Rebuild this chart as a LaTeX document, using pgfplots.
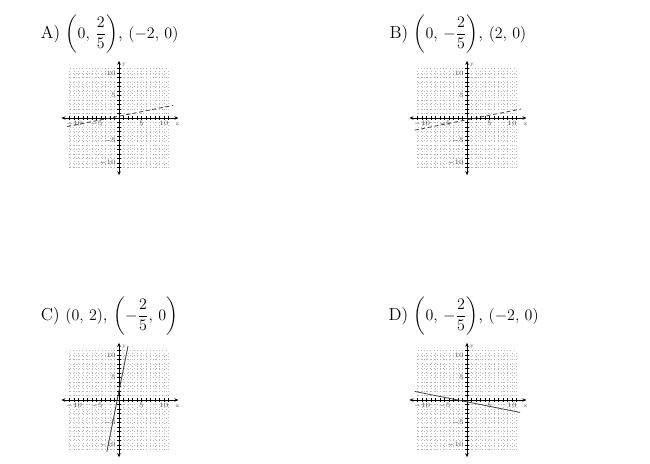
\documentclass[border=0pt]{standalone}
\usepackage{amsmath}
\usepackage{pgfplots}
\pgfplotsset{compat=1.18}
\usetikzlibrary{arrows.meta}

\pgfplotsset{
  gridplot/.style={
    scale only axis, width=74.25pt, height=74.25pt,
    xmin=-11, xmax=11, ymin=-11, ymax=11,
    axis lines=middle, axis line style={-, line width=0.55pt},
    clip=false, anchor=origin,
    xtick={-10,-5,5,10}, ytick={-10,-5,5,10},
    minor xtick={-11,...,11}, minor ytick={-11,...,11},
    grid=minor, minor grid style={gray!55, dotted, line width=0.3pt},
    tick align=center, major tick length=2.5pt, minor tick length=2.5pt,
    tick style={black, line width=0.4pt},
    tick label style={font=\fontsize{3.5}{4}\selectfont, text=gray!60!black, inner sep=1pt},
  },
}

% arrowed axes and axis names
\newcommand{\axesdeco}{%
  \draw[{Stealth[length=3pt,width=2.6pt]}-{Stealth[length=3pt,width=2.6pt]}, line width=0.55pt]
    (axis cs:-12.8,0) -- (axis cs:13.2,0);
  \draw[{Stealth[length=3pt,width=2.6pt]}-{Stealth[length=3pt,width=2.6pt]}, line width=0.55pt]
    (axis cs:0,-12.7) -- (axis cs:0,12.7);
  \node[font=\fontsize{4}{5}\selectfont, text=gray!60!black] at (axis cs:13,-1.4) {x};
  \node[font=\fontsize{4}{5}\selectfont, text=gray!60!black] at (axis cs:1.1,11.9) {y};
}

\begin{document}
\begin{tikzpicture}
\useasboundingbox (0,0) rectangle (487.5pt,-348pt);

\tikzset{lbl/.style={anchor=base west, inner sep=0pt, font=\fontsize{13}{15.6}\selectfont}}
\node[lbl] at (30.5pt,-28.5pt)
  {A) $\biggl(0,\, \dfrac{2}{5}\biggr)$, $(-2,\, 0)$};
\node[lbl] at (292pt,-28.5pt)
  {B) $\biggl(0,\, -\dfrac{2}{5}\biggr)$, $(2,\, 0)$};
\node[lbl] at (30.5pt,-240pt)
  {C) $(0,\, 2)$, $\biggl(-\dfrac{2}{5},\, 0\biggr)$};
\node[lbl] at (291.2pt,-240pt)
  {D) $\biggl(0,\, -\dfrac{2}{5}\biggr)$, $(-2,\, 0)$};

% A
\begin{axis}[gridplot, at={(89.25pt,-88.5pt)}]
  \axesdeco
  \addplot[densely dashed, line width=0.6pt, black!75] coordinates {(-11.5,-1.9) (12,2.8)};
\end{axis}

% B
\begin{axis}[gridplot, at={(350.25pt,-88.5pt)}]
  \axesdeco
  \addplot[densely dashed, line width=0.6pt, black!75] coordinates {(-11.6,-2.7) (12,2.0)};
\end{axis}

% C
\begin{axis}[gridplot, at={(89.25pt,-300pt)}]
  \axesdeco
  \addplot[line width=0.6pt, black!75] coordinates {(-2.7,-11.5) (2,12)};
\end{axis}

% D
\begin{axis}[gridplot, at={(350.25pt,-300pt)}]
  \axesdeco
  \addplot[line width=0.6pt, black!75] coordinates {(-11.6,1.9) (11.8,-2.76)};
\end{axis}
\end{tikzpicture}
\end{document}
